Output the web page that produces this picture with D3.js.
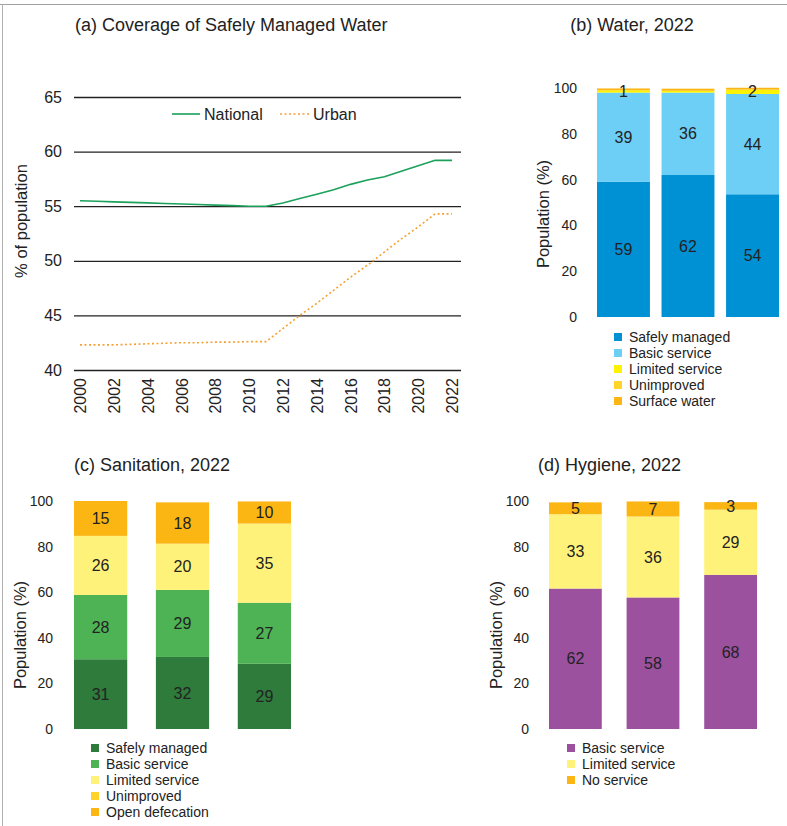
<!DOCTYPE html>
<html>
<head>
<meta charset="utf-8">
<script src="https://cdn.jsdelivr.net/npm/d3@7"></script>
<style>
body{margin:0;background:#fff;}
svg{display:block;font-family:"Liberation Sans",Arial,sans-serif;}
</style>
</head>
<body>
<script>
var width = 787;
var height = 826;

// (a) line chart
var years = [2000,2001,2002,2003,2004,2005,2006,2007,2008,2009,2010,2011,2012,2013,2014,2015,2016,2017,2018,2019,2020,2021,2022];
var yearTicks = [2000,2002,2004,2006,2008,2010,2012,2014,2016,2018,2020,2022];
var nationalValues = [55.5,55.45,55.4,55.35,55.3,55.25,55.2,55.15,55.1,55.05,55.0,55.0,55.3,55.7,56.1,56.5,57.0,57.4,57.7,58.2,58.7,59.2,59.2];
var urbanValues = [42.3,42.3,42.3,42.35,42.4,42.45,42.5,42.5,42.55,42.55,42.6,42.6,43.8,45.0,46.1,47.3,48.5,49.6,50.8,52.0,53.1,54.3,54.3];
var lineTicks = [40,45,50,55,60,65];

// (b) water
var waterGroups = ['g1','g2','g3'];
var waterSeries = ['Safely managed','Basic service','Limited service','Unimproved','Surface water'];
var waterSafely = [59,62,53.6];
var waterBasic = [39,36,43.8];
var waterLimited = [1.0,0.8,1.9];
var waterUnimproved = [0,0,0];
var waterSurface = [0.8,0.9,0.8];
var waterColors = ['#0090d4','#6dcff6','#fff200','#ffd32a','#fbb614'];

// (c) sanitation
var sanGroups = ['g1','g2','g3'];
var sanSeries = ['Safely managed','Basic service','Limited service','Unimproved','Open defecation'];
var sanSafely = [30.6,31.6,28.6];
var sanBasic = [28.2,29.4,26.8];
var sanLimited = [25.9,20.3,34.7];
var sanUnimproved = [0,0,0];
var sanOpen = [15.3,18.1,9.7];
var sanColors = ['#2e7b3b','#4db354','#fff27a','#ffd32a','#fbb614'];

// (d) hygiene
var hygGroups = ['g1','g2','g3'];
var hygSeries = ['Basic service','Limited service','No service'];
var hygBasic = [61.6,57.7,67.6];
var hygLimited = [32.6,35.5,28.6];
var hygNone = [5.2,6.6,3.3];
var hygColors = ['#9b519e','#fff27a','#fbb614'];

var stackTicks = [0,20,40,60,80,100];
var textColor = '#222';

var canvas = d3.select('body').append('svg')
	.attr('width',width)
	.attr('height',height);

// frame of the original screenshot
canvas.append('line').attr('x1',0).attr('x2',width).attr('y1',4.5).attr('y2',4.5)
	.attr('stroke','#a0a0a0').attr('stroke-width',1);
canvas.append('line').attr('x1',2.5).attr('x2',2.5).attr('y1',4).attr('y2',height)
	.attr('stroke','#b0b0b0').attr('stroke-width',1);

// ---------- (a) ----------
var xLine = d3.scaleLinear().domain([2000,2022]).range([80,452]);
var yLine = d3.scaleLinear().domain([40,65]).range([370,97]);

canvas.append('text').attr('x',75).attr('y',31)
	.attr('font-size',18).attr('fill',textColor)
	.text('(a) Coverage of Safely Managed Water');

var gy = canvas.append('g').attr('transform','translate(74,0)')
	.call(d3.axisLeft(yLine).tickValues(lineTicks).tickSize(-(461-74)).tickPadding(12));
gy.select('.domain').remove();
gy.selectAll('line').attr('stroke','#222').attr('stroke-width',1.3);
gy.selectAll('text').attr('font-size',16).attr('fill',textColor);

var gx = canvas.append('g').attr('transform','translate(0,370)')
	.call(d3.axisBottom(xLine).tickValues(yearTicks).tickSize(0).tickFormat(d3.format('d')));
gx.select('.domain').remove();
gx.selectAll('text')
	.attr('transform','rotate(-90)')
	.attr('x',-8).attr('y',0).attr('dy','0.35em')
	.style('text-anchor','end')
	.attr('font-size',16).attr('fill',textColor);

canvas.append('text')
	.attr('transform','translate(27,221) rotate(-90)')
	.attr('text-anchor','middle')
	.attr('font-size',16.5).attr('fill',textColor)
	.text('% of population');

var line = d3.line().x((d,i)=>xLine(years[i])).y((d)=>yLine(d));
canvas.append('path').datum(nationalValues)
	.attr('d',line).attr('fill','none')
	.attr('stroke','#1aa15a').attr('stroke-width',1.6);
canvas.append('path').datum(urbanValues)
	.attr('d',line).attr('fill','none')
	.attr('stroke','#f7a033').attr('stroke-width',1.6)
	.attr('stroke-dasharray','2,2.5');

// legend (a)
canvas.append('line').attr('x1',172).attr('x2',200).attr('y1',114).attr('y2',114)
	.attr('stroke','#1aa15a').attr('stroke-width',1.6);
canvas.append('text').attr('x',204).attr('y',120).attr('font-size',16).attr('fill',textColor).text('National');
canvas.append('line').attr('x1',280).attr('x2',309).attr('y1',114).attr('y2',114)
	.attr('stroke','#f7a033').attr('stroke-width',1.6).attr('stroke-dasharray','2,2.5');
canvas.append('text').attr('x',313).attr('y',120).attr('font-size',16).attr('fill',textColor).text('Urban');

// ---------- stacked bars ----------
function drawStack(opt){
	var rows = opt.groups.map(function(g,i){
		var r = {group:g};
		opt.series.forEach(function(s,j){ r[s] = opt.values[j][i]; });
		return r;
	});
	var x = d3.scaleBand().domain(opt.groups).range(opt.xRange).paddingInner(opt.pad).paddingOuter(0);
	var y = d3.scaleLinear().domain([0,100]).range(opt.yRange);
	var color = d3.scaleOrdinal().domain(opt.series).range(opt.colors);
	var stacked = d3.stack().keys(opt.series)(rows);

	canvas.append('text').attr('x',opt.titleX).attr('y',opt.titleY)
		.attr('font-size',18).attr('fill',textColor)
		.attr('text-anchor',opt.titleAnchor || 'start')
		.text(opt.title);

	var ax = canvas.append('g').attr('transform','translate('+opt.axisX+',0)')
		.call(d3.axisLeft(y).tickValues(stackTicks).tickSize(0).tickPadding(0));
	ax.select('.domain').remove();
	ax.selectAll('text').attr('font-size',14).attr('fill',textColor);

	canvas.append('text')
		.attr('transform','translate('+opt.labelX+','+opt.labelY+') rotate(-90)')
		.attr('text-anchor','middle')
		.attr('font-size',16.5).attr('fill',textColor)
		.text('Population (%)');

	var layers = canvas.append('g').selectAll('g')
		.data(stacked).enter().append('g')
		.attr('fill',(d)=>color(d.key));
	layers.selectAll('rect')
		.data((d)=>d).enter().append('rect')
		.attr('x',(d)=>x(d.data.group))
		.attr('width',x.bandwidth())
		.attr('y',(d)=>y(d[1]))
		.attr('height',(d)=>y(d[0])-y(d[1]));

	// value labels
	stacked.forEach(function(layer){
		layer.forEach(function(d){
			var v = d[1]-d[0];
			if (v < 1) return;
			canvas.append('text')
				.attr('x',x(d.data.group)+x.bandwidth()/2)
				.attr('y',y((d[0]+d[1])/2))
				.attr('dy','0.35em')
				.attr('text-anchor','middle')
				.attr('font-size',16).attr('fill',textColor)
				.text(Math.round(v));
		});
	});

	// legend
	var lg = canvas.append('g').selectAll('g')
		.data(opt.series).enter().append('g')
		.attr('transform',(d,i)=>'translate('+opt.legendX+','+(opt.legendY+i*16)+')');
	lg.append('rect').attr('x',0).attr('y',-4).attr('width',8).attr('height',8)
		.attr('fill',(d)=>color(d));
	lg.append('text').attr('x',15).attr('y',0).attr('dy','0.35em')
		.attr('font-size',14).attr('fill',textColor).text((d)=>d);
}

drawStack({
	title:'(b) Water, 2022', titleX:632, titleY:31, titleAnchor:'middle',
	groups:waterGroups, series:waterSeries,
	values:[waterSafely,waterBasic,waterLimited,waterUnimproved,waterSurface],
	colors:waterColors,
	xRange:[597,779], pad:0.18, yRange:[317,88],
	axisX:577, labelX:549, labelY:214,
	legendX:614, legendY:337
});

drawStack({
	title:'(c) Sanitation, 2022', titleX:74, titleY:471,
	groups:sanGroups, series:sanSeries,
	values:[sanSafely,sanBasic,sanLimited,sanUnimproved,sanOpen],
	colors:sanColors,
	xRange:[74,291], pad:0.35, yRange:[729,501],
	axisX:53, labelX:26, labelY:635,
	legendX:91, legendY:748
});

drawStack({
	title:'(d) Hygiene, 2022', titleX:538, titleY:471,
	groups:hygGroups, series:hygSeries,
	values:[hygBasic,hygLimited,hygNone],
	colors:hygColors,
	xRange:[549,757], pad:0.32, yRange:[729,501],
	axisX:529, labelX:502, labelY:635,
	legendX:567, legendY:748
});
</script>
</body>
</html>
